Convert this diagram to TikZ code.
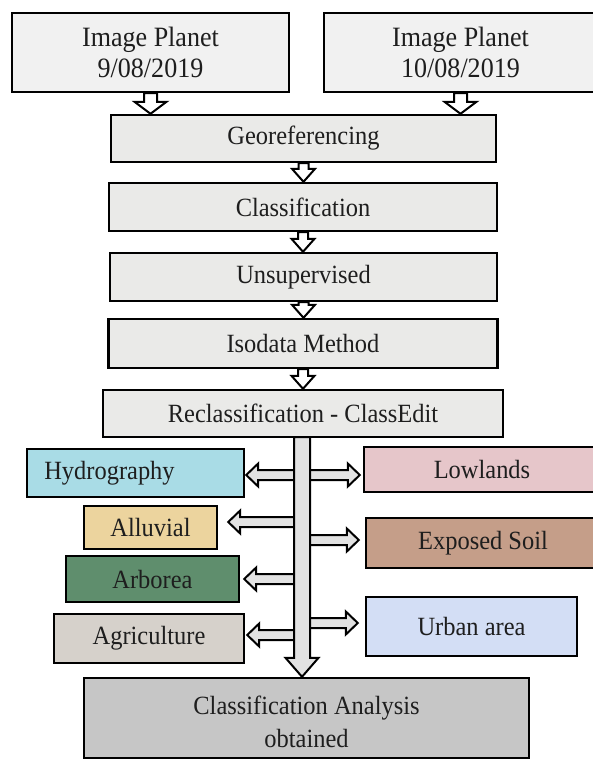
\documentclass[tikz,border=0pt]{standalone}
\usepackage{fontspec}
\setmainfont{Liberation Serif}[FakeStretch=0.93]
\usetikzlibrary{calc}
\definecolor{txt}{HTML}{1E1E1E}
\definecolor{topfill}{HTML}{F1F1F1}
\definecolor{procfill}{HTML}{EAEAE8}
\definecolor{hydfill}{HTML}{A9DCE6}
\definecolor{lowfill}{HTML}{E6C6CA}
\definecolor{allfill}{HTML}{ECD49E}
\definecolor{expfill}{HTML}{C59E89}
\definecolor{arbfill}{HTML}{5F8E6D}
\definecolor{agrfill}{HTML}{D6D1CB}
\definecolor{urbfill}{HTML}{D3DEF5}
\definecolor{finfill}{HTML}{C6C6C6}
\definecolor{arrfill}{HTML}{E2E2E2}
\tikzset{
  box/.style={draw=black, line width=2.4pt, inner sep=0pt, text=txt, align=center,
    font=\fontsize{26.3}{33}\selectfont},
  lbl/.style={text=txt, inner sep=0pt, font=\fontsize{26.3}{33}\selectfont, align=center},
  blk/.style={draw=black, line width=2pt, fill=arrfill, line join=miter},
  blkw/.style={draw=black, line width=2pt, fill=white, line join=miter},
}
% vertical block arrow: style, start, tip, half shaft, half head, head length
\newcommand\blkdown[6]{%
  \draw[#1] let \p1=(#2), \p2=(#3) in
    (\x2-#4,\y1) -- (\x2-#4,\y2+#6) -- (\x2-#5,\y2+#6) -- (\x2,\y2)
    -- (\x2+#5,\y2+#6) -- (\x2+#4,\y2+#6) -- (\x2+#4,\y1) -- cycle;}
% horizontal block arrows: start, tip, y (picture units)
\newcommand\blkleft[3]{%
  \draw[blk] let \p1=(#1), \p2=(#2), \p3=(0,#3) in
    (\x1,\y3+5pt) -- (\x2+12pt,\y3+5pt) -- (\x2+12pt,\y3+11.5pt) -- (\x2,\y3)
    -- (\x2+12pt,\y3-11.5pt) -- (\x2+12pt,\y3-5pt) -- (\x1,\y3-5pt) -- cycle;}
\newcommand\blkright[3]{%
  \draw[blk] let \p1=(#1), \p2=(#2), \p3=(0,#3) in
    (\x1,\y3+5pt) -- (\x2-12pt,\y3+5pt) -- (\x2-12pt,\y3+11.5pt) -- (\x2,\y3)
    -- (\x2-12pt,\y3-11.5pt) -- (\x2-12pt,\y3-5pt) -- (\x1,\y3-5pt) -- cycle;}
\begin{document}
\begin{tikzpicture}[x=1pt,y=-1pt]
\clip (0,0) rectangle (593,760);
\fill[white] (0,0) rectangle (593,760);

% top boxes
\node[box, fill=topfill, minimum width=277pt, minimum height=79pt,
  font=\fontsize{28}{31}\selectfont] (b1) at (150.5,52.5) {Image Planet\\9/08/2019};
\node[box, fill=topfill, minimum width=273pt, minimum height=79pt,
  font=\fontsize{28}{31}\selectfont] (b2) at (460.5,52.5) {Image Planet\\10/08/2019};

% process chain
\node[box, fill=procfill, minimum width=385pt, minimum height=47pt] (geo) at (303.5,138.5) {Georeferencing};
\node[box, fill=procfill, minimum width=388pt, minimum height=48pt] (cls) at (303,207) {Classification};
\node[box, fill=procfill, minimum width=387pt, minimum height=48pt] (uns) at (303.5,277) {Unsupervised};
\node[box, fill=procfill, minimum width=389pt, minimum height=49pt] (iso) at (303,343.5) {Isodata Method};
\node[box, fill=procfill, minimum width=400pt, minimum height=47pt] (rec) at (303,413.5) {Reclassification - ClassEdit};

% classes
\node[box, fill=hydfill, minimum width=217pt, minimum height=48pt,
  label={[lbl, xshift=-26pt]center:Hydrography}] (hyd) at (135.5,473) {};
\node[box, fill=allfill, minimum width=133pt, minimum height=43pt] (all) at (150.5,527.5) {Alluvial};
\node[box, fill=arbfill, minimum width=173pt, minimum height=46pt] (arb) at (152.5,579) {Arborea};
\node[box, fill=agrfill, minimum width=190pt, minimum height=49pt] (agr) at (149,638.5) {Agriculture};
\node[box, fill=lowfill, minimum width=236pt, minimum height=45pt] (low) at (482,469.5) {Lowlands};
\node[box, fill=expfill, minimum width=234pt, minimum height=50pt] (exp) at (483,543) {Exposed Soil};
\node[box, fill=urbfill, minimum width=211pt, minimum height=59pt] (urb) at (471.5,626.5) {Urban area};

% result
\node[box, fill=finfill, minimum width=445pt, minimum height=80pt,
  label={[lbl, yshift=-4pt]center:Classification Analysis\\obtained}] (fin) at (306.5,718) {};

% top arrows
\blkdown{blkw}{b1.south}{b1.south |- geo.north}{6.5pt}{16pt}{12pt}
\blkdown{blkw}{b2.south}{b2.south |- geo.north}{6.5pt}{16pt}{12pt}
% chain arrows
\blkdown{blkw}{geo.south}{geo.south |- cls.north}{5pt}{11.5pt}{13pt}
\blkdown{blkw}{cls.south}{cls.south |- uns.north}{5pt}{11.5pt}{13pt}
\blkdown{blkw}{uns.south}{uns.south |- iso.north}{5pt}{11.5pt}{13pt}
\blkdown{blkw}{iso.south}{iso.south |- rec.north}{5pt}{11.5pt}{13pt}

% side arrows from the trunk
\coordinate (trunk) at (302,437);
\blkleft{trunk}{$(hyd.east)+(1,0)$}{475}
\blkleft{trunk}{$(all.east)+(10,0)$}{522}
\blkleft{trunk}{$(arb.east)+(4,0)$}{579}
\blkleft{trunk}{$(agr.east)+(2,0)$}{635}
\blkright{trunk}{$(low.west)+(-3,0)$}{475}
\blkright{trunk}{$(exp.west)+(-6,0)$}{540}
\blkright{trunk}{$(urb.west)+(-7,0)$}{623}

% trunk arrow
\blkdown{blk}{trunk}{trunk |- fin.north}{8pt}{16.5pt}{19pt}
\end{tikzpicture}
\end{document}
